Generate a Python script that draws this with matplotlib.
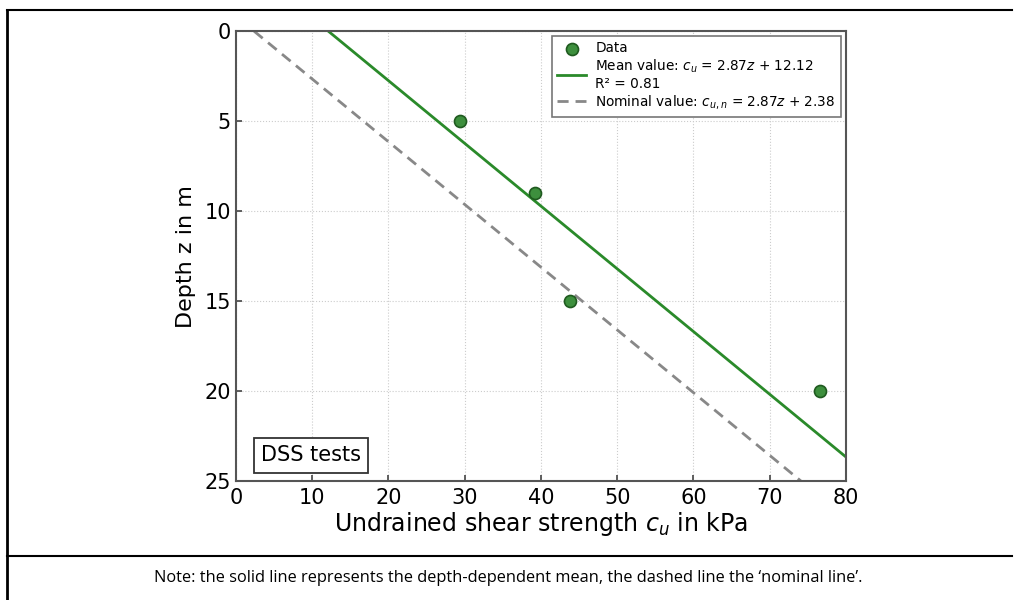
import numpy as np
import matplotlib
matplotlib.use('Agg')
import matplotlib.pyplot as plt
from matplotlib.lines import Line2D

# DSS test results
depth_z = [5, 9, 15, 20]
cu_kpa = [29.4, 39.2, 43.8, 76.6]

# Fitted lines (c_u = slope * z + intercept)
slope = 2.87
mean_intercept = 12.12
nominal_intercept = 2.38
r_squared = 0.81
z_line = np.array([0, 25])

x_ticks = [0, 10, 20, 30, 40, 50, 60, 70, 80]
y_ticks = [0, 5, 10, 15, 20, 25]

fig = plt.figure(figsize=(10.14, 6), dpi=100)
ax = fig.add_axes([0.2327, 0.198, 0.6015, 0.75])

ax.plot(slope * z_line + mean_intercept, z_line, color='#2a8a2a', lw=2,
        label=f'Mean value: $c_u$ = {slope}$z$ + {mean_intercept}\nR² = {r_squared}')
ax.plot(slope * z_line + nominal_intercept, z_line, color='#888888', lw=2,
        ls=(0, (4, 2.5)), label=f'Nominal value: $c_{{u,n}}$ = {slope}$z$ + {nominal_intercept}')
ax.scatter(cu_kpa, depth_z, s=75, color='#3d8f3d', edgecolor='#1f5a1f', lw=1.2,
           zorder=3, label='Data')

ax.set_xlim(0, 80)
ax.set_ylim(25, 0)
ax.set_xticks(x_ticks)
ax.set_yticks(y_ticks)
ax.tick_params(direction='in', labelsize=15, color='#444444', length=4, width=1.2)
ax.tick_params(axis='x', pad=5)
ax.grid(True, ls=':', color='#cccccc', lw=0.8)
for s in ax.spines.values():
    s.set_color('#555555')
    s.set_linewidth(1.5)

ax.set_xlabel('Undrained shear strength $c_u$ in kPa', fontsize=17, labelpad=1)
ax.set_ylabel('Depth z in m', fontsize=16, labelpad=6)

# legend order: Data, Mean, Nominal
handles, labels = ax.get_legend_handles_labels()
order = [2, 0, 1]
leg = ax.legend([handles[i] for i in order], [labels[i] for i in order],
                loc='upper right', fontsize=9.8, fancybox=False, edgecolor='#777777',
                framealpha=1, handlelength=2.1, labelspacing=0.15, borderpad=0.4,
                handletextpad=0.7, borderaxespad=0.35)
leg.get_frame().set_linewidth(1.2)

ax.text(0.041, 0.035, 'DSS tests', transform=ax.transAxes, fontsize=15,
        ha='left', va='bottom',
        bbox=dict(boxstyle='square,pad=0.35', facecolor='white', edgecolor='#333333', lw=1.3))

# surrounding table frame and note
fig.add_artist(Line2D([7 / 1014, 1012 / 1014], [1 - 10 / 600, 1 - 10 / 600], color='black', lw=1.5))
fig.add_artist(Line2D([7 / 1014, 7 / 1014], [0, 1 - 10 / 600], color='black', lw=2))
fig.add_artist(Line2D([7 / 1014, 1012 / 1014], [1 - 556 / 600, 1 - 556 / 600], color='black', lw=1.5))
fig.text(508 / 1014, 1 - 578 / 600,
         'Note: the solid line represents the depth-dependent mean, the dashed line the \u2018nominal line\u2019.',
         ha='center', va='center', fontsize=11.8, family=['Open Sans', 'DejaVu Sans'])

fig.savefig('out.png', dpi=100)
